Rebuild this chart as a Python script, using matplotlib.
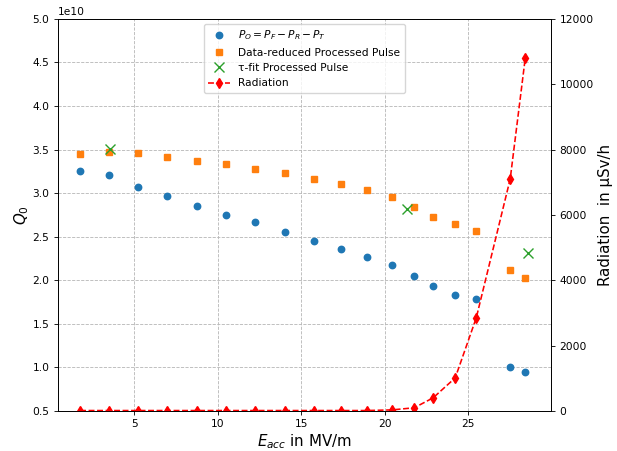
import matplotlib
matplotlib.use("Agg")
import matplotlib.pyplot as plt

# Accelerating gradient in MV/m
e_acc = [1.77, 3.50, 5.24, 6.98, 8.77, 10.51, 12.25, 14.04, 15.78, 17.40,
         18.95, 20.45, 21.77, 22.90, 24.22, 25.48, 27.51, 28.41]

# Q0 from P_O = P_F - P_R - P_T
q0_power = [3.255, 3.21, 3.075, 2.97, 2.85, 2.75, 2.67, 2.555, 2.45, 2.36,
            2.27, 2.18, 2.05, 1.935, 1.835, 1.78, 1.0, 0.945]

# Q0 from the data-reduced processed pulse
q0_reduced = [3.45, 3.47, 3.46, 3.42, 3.37, 3.33, 3.28, 3.23, 3.16, 3.10,
              3.04, 2.96, 2.84, 2.73, 2.65, 2.57, 2.12, 2.02]

# tau-fit processed pulse (only three fits)
e_tau = [3.55, 21.35, 28.6]
q0_tau = [3.51, 2.82, 2.31]

# Radiation dose rate in uSv/h
radiation = [10, 10, 10, 10, 10, 10, 10, 10, 10, 10,
             10, 30, 95, 400, 1010, 2850, 7100, 10800]

# figure was made at a larger size, everything scaled down by ~0.77
s = 0.77
plt.rcParams.update({
    'font.size': 10 * s,
    'axes.linewidth': 0.8 * s,
    'xtick.major.width': 0.8 * s,
    'ytick.major.width': 0.8 * s,
    'xtick.major.size': 3.5 * s,
    'ytick.major.size': 3.5 * s,
    'lines.linewidth': 1.5 * s,
    'grid.linewidth': 0.8 * s,
    'legend.fontsize': 10 * s,
})

fig = plt.figure(figsize=(6.17, 4.51), dpi=100)
ax1 = fig.add_axes([0.094, 0.089, 0.799, 0.869])
ax2 = ax1.twinx()

h1, = ax1.plot(e_acc, [q * 1e10 for q in q0_power], 'o', color='tab:blue',
               markersize=6 * s, label=r'$P_O = P_F - P_R - P_T$')
h2, = ax1.plot(e_acc, [q * 1e10 for q in q0_reduced], 's', color='tab:orange',
               markersize=6 * s, label='Data-reduced Processed Pulse')
h3, = ax1.plot(e_tau, [q * 1e10 for q in q0_tau], 'x', color='tab:green',
               markersize=9 * s, label='τ-fit Processed Pulse')
h4, = ax2.plot(e_acc, radiation, 'r--d', markersize=7 * s, label='Radiation')

ax1.set_xlim(0.45, 29.95)
ax1.set_ylim(0.5e10, 5.0e10)
ax1.set_yticks([i * 0.5e10 for i in range(1, 11)])
ax2.set_ylim(0, 12000)

ax1.grid(True, linestyle='--', color='#b8b8b8')
ax1.set_xlabel(r'$E_{acc}$ in MV/m', fontsize=14 * s, labelpad=2)
ax1.set_ylabel(r'$Q_0$', fontsize=14 * s, labelpad=1)
ax2.set_ylabel('Radiation  in µSv/h', fontsize=14 * s, labelpad=3)

ax2.legend(handles=[h1, h2, h3, h4], loc='upper center')

fig.savefig('out.png', dpi=100)
